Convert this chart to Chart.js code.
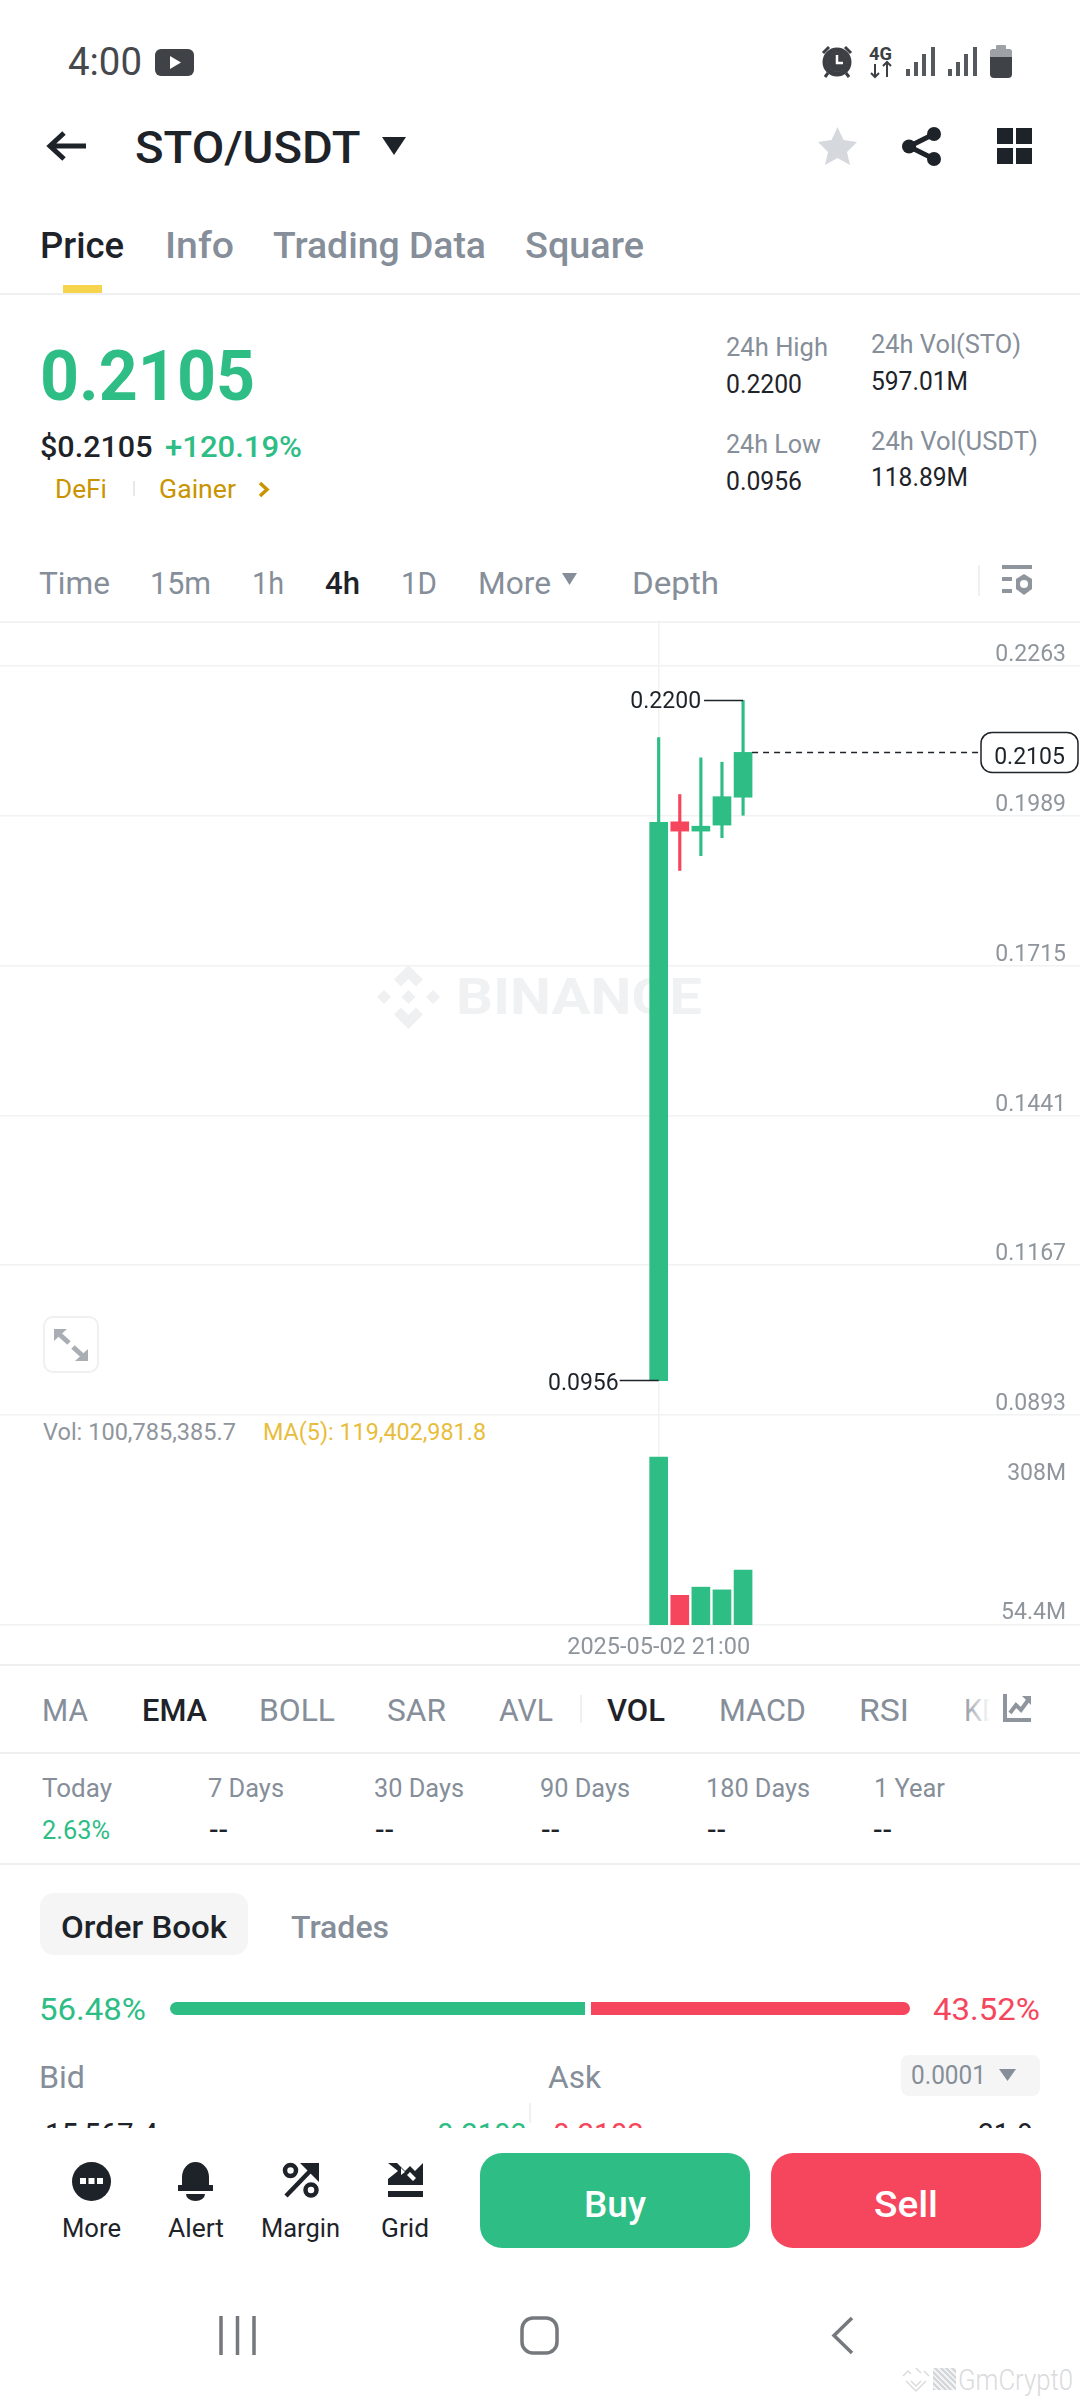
<!DOCTYPE html>
<html>
<head>
<meta charset="utf-8">
<title>STO/USDT</title>
<script src="https://cdn.jsdelivr.net/npm/chart.js@4"></script>
<style>
html,body{margin:0;padding:0;background:#fff;width:1080px;height:2400px;overflow:hidden;font-family:Roboto,"Noto Sans",sans-serif}
.t{position:absolute;white-space:nowrap;transform-origin:0 50%}
.b{position:absolute}
svg{position:absolute;overflow:visible}
canvas{position:absolute;left:0}
</style>
</head>
<body>
<div id="ui"></div>
<canvas id="price" width="1080" height="797" style="top:620px;width:1080px;height:797px"></canvas>
<canvas id="vol" width="1080" height="255" style="top:1414px;width:1080px;height:255px"></canvas>
<div id="top"></div>
<script>
// ---- chart data ----
const candleTimes = ['2025-05-02 21:00','2025-05-03 01:00','2025-05-03 05:00','2025-05-03 09:00','2025-05-03 13:00'];
const openPrices  = [0.0956,0.1978,0.1961,0.1972,0.2023];
const closePrices = [0.1977,0.1961,0.1970,0.2024,0.2105];
const highPrices  = [0.2132,0.2028,0.2095,0.2087,0.2200];
const lowPrices   = [0.0956,0.1889,0.1916,0.1949,0.1990];
const volumes     = [308000000,54400000,69400000,64400000,100785385.7];
const priceTicks  = [0.2263,0.1989,0.1715,0.1441,0.1167,0.0893];
const volumeTicks = [308000000,54400000];
const volumeTickLabels = ['308M','54.4M'];
const lastPrice = 0.2105, peakPrice = 0.2200, troughPrice = 0.0956;

const GREEN='#2EBD85', RED='#F6465D', INK='#1E2329', GREY='#858E99', GRID='#F1F2F3', AXIS='#8F959C';
const FONT='Roboto,"Noto Sans",sans-serif';
const candleColor = candleTimes.map((_,i)=> closePrices[i]>=openPrices[i] ? GREEN : RED);

// ---- page chrome helpers ----
const ui=document.getElementById('ui');
function T(text,x0,x1,cy,size,color,weight,parent){
  const s=document.createElement('span'); s.className='t'; s.textContent=text;
  s.style.cssText=`left:${x0}px;top:${cy-size*0.6}px;font-size:${size}px;line-height:${size*1.2}px;color:${color};font-weight:${weight||400}`;
  (parent||ui).appendChild(s);
  if(x1){const w=s.getBoundingClientRect().width; s.style.transform=`scaleX(${(x1-x0)/w})`;}
  return s;
}
function R(x,y,w,h,bg,r,parent,extra){
  const d=document.createElement('div'); d.className='b';
  d.style.cssText=`left:${x}px;top:${y}px;width:${w}px;height:${h}px;background:${bg};border-radius:${r||0}px;${extra||''}`;
  (parent||ui).appendChild(d); return d;
}
function S(x,y,w,h,inner,parent){
  const c=document.createElement('div');
  c.innerHTML=`<svg xmlns="http://www.w3.org/2000/svg" style="left:${x}px;top:${y}px" width="${w}" height="${h}" viewBox="0 0 ${w} ${h}">${inner}</svg>`;
  (parent||ui).appendChild(c.firstChild);
}
const LINE='#EEF0F1';

// status bar
T('4:00',68,142,62.5,38,'#45484C',400);
S(155,49,39,27,`<rect width="39" height="27" rx="6" fill="#3F4246"/><path d="M15 7 L26 13.5 L15 20Z" fill="#fff"/>`);
S(822,46,30,31,`<circle cx="15" cy="16" r="12" fill="none" stroke="#3C3F43" stroke-width="5"/><circle cx="15" cy="16" r="10" fill="#3C3F43"/><path d="M15 9V17H21" stroke="#fff" stroke-width="2.5" fill="none"/><path d="M1 7 L7 1 M29 7 L23 1" stroke="#3C3F43" stroke-width="3"/><path d="M6 27 L3 31 M24 27 L27 31" stroke="#3C3F43" stroke-width="3"/>`);
T('4G',869,892,54,18,'#3C3F43',700);
S(869,62,24,15,`<path d="M6 15V2 M2 11L6 15L10 11 M18 0V15 M14 4L18 0L22 4" stroke="#3C3F43" stroke-width="2" fill="none"/>`);
for(const sx of [906,948]){
  S(sx,47,30,29,`<rect x="0" y="22" width="4" height="7" fill="#55585C"/><rect x="8" y="15" width="4" height="14" fill="#55585C"/><rect x="16" y="7" width="4" height="22" fill="#55585C"/><rect x="25" y="0" width="4" height="29" fill="#55585C"/>`);
}
S(990,45,22,33,`<rect x="6" y="0" width="10" height="5" rx="1" fill="#9EA1A5"/><rect x="0" y="4" width="22" height="29" rx="4" fill="#3F4246"/><path d="M0 12V8a4 4 0 0 1 4-4H18a4 4 0 0 1 4 4V12Z" fill="#9EA1A5"/>`);

// header
S(46,130,42,32,`<path d="M40 16H5 M18 3L4 16L18 29" stroke="${INK}" stroke-width="5" fill="none"/>`);
T('STO/USDT',134.5,360,148,45,INK,500);
S(382,137,24,18,`<path d="M0 0H24L12 18Z" fill="${INK}"/>`);
S(818,127,39,38,`<path d="M19.5 0L25.5 13L39 15L29 25L32 38L19.5 31L7 38L10 25L0 15L13.5 13Z" fill="#D5D8DC"/>`);
S(902,127,39,39,`<circle cx="32" cy="7" r="7" fill="${INK}"/><circle cx="7" cy="19.5" r="7" fill="${INK}"/><circle cx="32" cy="32" r="7" fill="${INK}"/><path d="M32 7L7 19.5L32 32" stroke="${INK}" stroke-width="5" fill="none"/>`);
R(997,128,16,16,INK);R(1016,128,16,16,INK);R(997,148,16,16,INK);R(1016,148,16,16,INK);

// tabs
T('Price',40,124,246.5,36,INK,500);
T('Info',165,234,246.5,36,GREY,500);
T('Trading Data',273,486,246.5,36,GREY,500);
T('Square',525,644,246.5,36,GREY,500);
R(63,285,39,8,'#F6D44D');
R(0,293,1080,1.5,LINE);

// price block
T('0.2105',40,255,376,70,GREEN,700);
T('$0.2105',39.5,152,447,30,INK,500);
T('+120.19%',165,302,447,30,GREEN,500);
T('DeFi',55,107,490,25,'#C99400',400);
R(133,481,1.5,15,'#E6E8EA');
T('Gainer',159,236,490,25,'#C99400',400);
S(258,481,12,17,`<path d="M2 2L9 8.5L2 15" stroke="#C99400" stroke-width="3.5" fill="none"/>`);
T('24h High',726,828,348,26,GREY);
T('0.2200',726,802,385,26,INK);
T('24h Low',726,821,445,26,GREY);
T('0.0956',726,802,482,26,INK);
T('24h Vol(STO)',871,1021,344.5,26,GREY);
T('597.01M',871,968,381.5,26,INK);
T('24h Vol(USDT)',871,1038,441.5,26,GREY);
T('118.89M',871,968,478,26,INK);

// interval row
T('Time',39,110,583,32,GREY);
T('15m',150,211,583,32,GREY);
T('1h',252,284,583,32,GREY);
T('4h',325,360,583,32,INK,500);
T('1D',401,437,583,32,GREY);
T('More',478,551,583,32,GREY);
S(562,573,15,12,`<path d="M0 0H15L7.5 12Z" fill="${GREY}"/>`);
T('Depth',632,719,583,32,GREY);
R(978,565,1.5,31,'#EEF0F1');
S(1002,565,30,30,`<rect x="0" y="0" width="30" height="4" fill="#8F959C"/><rect x="0" y="12" width="10" height="4" fill="#8F959C"/><rect x="0" y="24" width="10" height="4" fill="#8F959C"/><path d="M22 9L30 14V24L22 30L14 24V14Z" fill="#8F959C"/><circle cx="22" cy="19" r="4" fill="#fff"/>`);
R(0,621,1080,1.5,GRID);

// watermark, sits behind the canvas
S(377,965,63,64,`<g fill="#EFF0F1"><path d="M31.5 0L46 14.5L39 21.5L31.5 14L24 21.5L17 14.5Z"/><path d="M31.5 64L46 49.5L39 42.5L31.5 50L24 42.5L17 49.5Z"/><path d="M7 25L14 32L7 39L0 32Z"/><path d="M56 25L63 32L56 39L49 32Z"/><path d="M31.5 25L38.5 32L31.5 39L24.5 32Z"/></g>`);
T('BINANCE',456,702,997,50,'#F0F1F2',700);

// expand button
R(43,1316,52,53,'#fff',10,ui,'border:2px solid #EEF0F1');
S(54,1329,34,32,`<g fill="#A9AEB5"><path d="M0 0H13L0 12Z"/><path d="M4 4L15 14" stroke="#A9AEB5" stroke-width="5"/><path d="M34 32H21L34 20Z"/><path d="M30 28L19 18" stroke="#A9AEB5" stroke-width="5"/></g>`);

// volume caption
T('Vol: 100,785,385.7',43,236,1432.5,23,AXIS);
T('MA(5): 119,402,981.8',263,486,1432.5,23,'#E8BD3C');

R(0,1664,1080,1.5,LINE);

// indicators row
[['MA',42,88,0],['EMA',142,207,1],['BOLL',259,335,0],['SAR',387,446,0],['AVL',499,553,0],['VOL',607,665,1],['MACD',719,806,0],['RSI',859,909,0],['KD',964,1001,0]]
 .forEach(([n,a,b,on])=>T(n,a,b,1711,31,on?INK:GREY,on?500:400));
R(961,1692,42,36,'linear-gradient(90deg,rgba(255,255,255,0),#fff 70%)');
R(580,1695,1.5,28,LINE);
S(1003,1694,28,28,`<path d="M2 0V26H28" stroke="#8F959C" stroke-width="4" fill="none"/><path d="M7 19L13 11L18 16L26 5" stroke="#8F959C" stroke-width="4" fill="none"/><path d="M19 2H28V11Z" fill="#8F959C"/>`);
R(0,1752,1080,1.5,LINE);

// returns row
[['Today',42,112],['7 Days',208,284],['30 Days',374,464],['90 Days',540,630],['180 Days',706,810],['1 Year',874,945]]
 .forEach(([n,a,b])=>T(n,a,b,1789,25,GREY));
T('2.63%',42,110,1831,25,GREEN);
[209,375,541,707,873].forEach(x=>T('--',x,x+19,1831,25,INK,500));
R(0,1863,1080,1.5,LINE);

// order book
R(40,1893,208,62,'#F5F5F5',14);
T('Order Book',61,227,1928,31,INK,500);
T('Trades',291,389,1928,31,GREY,500);
T('56.48%',39,146,2009.5,32,GREEN);
R(170,2002,415,13,GREEN,0,ui,'border-radius:7px 0 0 7px');
R(591,2002,319,13,RED,0,ui,'border-radius:0 7px 7px 0');
T('43.52%',933,1040,2009.5,32,RED);
T('Bid',39,85,2078,31,GREY);
T('Ask',548,601,2078,31,GREY);
R(901,2055,139,41,'#F5F5F5',8);
T('0.0001',911,986,2076,25,GREY);
S(999,2069,17,12,`<path d="M0 0H17L8.5 12Z" fill="${GREY}"/>`);
R(529,2103,1.5,20,LINE);
const clip=R(0,2100,1080,28,'transparent',0,ui,'overflow:hidden');
T('15,567.4',45,158,35,31,INK,400,clip);
T('0.2103',437,527,35,31,GREEN,400,clip);
T('0.2103',553,644,35,31,RED,400,clip);
T('21.9',978,1033,35,31,INK,400,clip);

// bottom bar
S(71.5,2161.5,39,39,`<circle cx="19.5" cy="19.5" r="19.5" fill="${INK}"/><rect x="8" y="16" width="6" height="6" fill="#fff"/><rect x="16.5" y="16" width="6" height="6" fill="#fff"/><rect x="25" y="16" width="6" height="6" fill="#fff"/>`);
S(178,2162,35,39,`<path d="M4 27V15a13.5 15 0 0 1 27 0V27Z" fill="${INK}"/><rect x="0" y="23" width="35" height="6" fill="${INK}"/><path d="M8 32H27a9.5 7 0 0 1-19 0Z" fill="${INK}"/>`);
S(283,2163,36,35,`<circle cx="7.5" cy="7.5" r="5.5" fill="none" stroke="${INK}" stroke-width="4.5"/><circle cx="28" cy="27" r="5.5" fill="none" stroke="${INK}" stroke-width="4.5"/><path d="M3 33L30 5" stroke="${INK}" stroke-width="4.5"/><path d="M17 0H36V19Z" fill="${INK}"/>`);
S(388,2163,35,35,`<path d="M0 0H9L17 8L22 3L27 8L35 0V22H0V16L10 8Z" fill="${INK}"/><path d="M13 5L17 9L13 12ZM22 9L28 15L25 18L19 12Z" fill="#fff"/><rect x="0" y="28" width="35" height="6" fill="${INK}"/>`);
T('More',62,121,2229,26,INK);
T('Alert',168,224,2229,26,INK);
T('Margin',261,340,2229,26,INK);
T('Grid',381,429,2229,26,INK);
R(480,2153,270,95,GREEN,22);
R(771,2153,270,95,RED,22);
T('Buy',584,646,2205.5,36,'#fff',500);
T('Sell',874,938,2205.5,36,'#fff',500);

// navigation bar + mark
S(219,2316,37,39,`<path d="M2 0V39 M18.5 0V39 M35 0V39" stroke="#75787C" stroke-width="3.5"/>`);
S(520,2316,39,39,`<rect x="2" y="2" width="35" height="35" rx="11" fill="none" stroke="#75787C" stroke-width="3.5"/>`);
S(831,2316,23,39,`<path d="M21 2L3 19.5L21 37" stroke="#75787C" stroke-width="3.5" fill="none"/>`);
S(902,2368,28,24,`<path d="M1 8L6 3L9 6 M14 0L19 5M27 8L22 3 M4 13L14 23L24 13 M9 13L14 18L19 13" stroke="#D9DBDD" stroke-width="1.5" fill="none"/>`);
R(933,2368,23,22,'repeating-linear-gradient(45deg,#D4D6D8 0 2px,#F2F3F4 2px 4px)');
T('GmCrypt0',958,1073,2380,30,'#D9DBDD',300);

// ---- Chart.js ----
const xRange = {min:-31.22, max:19.97};
const zeroPadding = a=>{a.paddingTop=0;a.paddingBottom=0;a.paddingLeft=0;a.paddingRight=0;};
const xBase = {
  type:'linear', min:xRange.min, max:xRange.max, offset:false,
  afterBuildTicks:a=>{a.ticks=[{value:0}];},
  border:{display:false},
  grid:{color:GRID,lineWidth:1.5,drawTicks:false,offset:false}
};
const priceAnnotations = {
  id:'priceAnnotations',
  afterDatasetsDraw(c){
    const {ctx,scales:{x,y}}=c;
    ctx.save();
    ctx.font='23px '+FONT; ctx.textBaseline='middle'; ctx.fillStyle=INK; ctx.strokeStyle=INK; ctx.lineWidth=1.5;
    // highest price leader
    const hi=highPrices.indexOf(peakPrice), hx=x.getPixelForValue(hi), hy=y.getPixelForValue(peakPrice);
    ctx.beginPath();ctx.moveTo(hx,hy);ctx.lineTo(hx-39,hy);ctx.stroke();
    ctx.textAlign='right';ctx.fillText(peakPrice.toFixed(4),hx-42,hy+1.5);
    // lowest price leader
    const li=lowPrices.indexOf(troughPrice), lx=x.getPixelForValue(li), ly=y.getPixelForValue(troughPrice);
    ctx.beginPath();ctx.moveTo(lx,ly);ctx.lineTo(lx-39,ly);ctx.stroke();
    ctx.fillText(troughPrice.toFixed(4),lx-40,ly+3.5);
    // last price line and tag
    const px=x.getPixelForValue(candleTimes.length-1)+9, py=y.getPixelForValue(lastPrice);
    ctx.setLineDash([6,5]);
    ctx.beginPath();ctx.moveTo(px,py);ctx.lineTo(979,py);ctx.stroke();
    ctx.setLineDash([]);
    ctx.beginPath();ctx.roundRect(981,py-20,97,40,11);ctx.fillStyle='#fff';ctx.fill();ctx.stroke();
    ctx.fillStyle=INK;ctx.textAlign='center';ctx.fillText(lastPrice.toFixed(4),1029.5,py+5.5);
    ctx.restore();
  }
};
new Chart(document.getElementById('price'),{
  type:'bar',
  data:{datasets:[
    {data:candleTimes.map((_,i)=>({x:i,y:[lowPrices[i],highPrices[i]]})),backgroundColor:candleColor,barThickness:2.5,grouped:false,borderSkipped:false},
    {data:candleTimes.map((_,i)=>({x:i,y:[openPrices[i],closePrices[i]]})),backgroundColor:candleColor,barThickness:18,grouped:false,borderSkipped:false}
  ]},
  plugins:[priceAnnotations],
  options:{
    responsive:false,animation:false,devicePixelRatio:1,
    layout:{padding:{top:2,bottom:2,left:0,right:0}},
    plugins:{legend:{display:false},tooltip:{enabled:false}},
    scales:{
      x:Object.assign({},xBase,{afterFit:a=>{a.height=0;zeroPadding(a);},ticks:{display:false}}),
      y:{
        position:'right',min:0.0893,max:0.23435,
        afterBuildTicks:a=>{a.ticks=priceTicks.map(v=>({value:v}));},
        border:{display:false},
        grid:{color:GRID,lineWidth:1.5,drawTicks:false},
        afterFit:a=>{a.width=0;zeroPadding(a);},
        ticks:{mirror:true,padding:-14,labelOffset:-10.5,color:AXIS,font:{family:FONT,size:23},callback:v=>v.toFixed(4),autoSkip:false}
      }
    }
  }
});
new Chart(document.getElementById('vol'),{
  type:'bar',
  data:{datasets:[{data:candleTimes.map((_,i)=>({x:i,y:volumes[i]})),backgroundColor:candleColor,barThickness:18}]},
  options:{
    responsive:false,animation:false,devicePixelRatio:1,
    layout:{padding:{top:1,bottom:0,left:0,right:0}},
    plugins:{legend:{display:false},tooltip:{enabled:false}},
    scales:{
      x:Object.assign({},xBase,{
        border:{display:true,color:GRID,width:1.5},
        afterFit:a=>{a.height=44;zeroPadding(a);},
        ticks:{padding:9,color:AXIS,maxRotation:0,autoSkip:false,font:{family:FONT,size:23.5},callback:v=>candleTimes[v]}
      }),
      y:{
        position:'right',min:0,max:385000000,
        afterBuildTicks:a=>{a.ticks=volumeTicks.map(v=>({value:v}));},
        border:{display:false},
        grid:{display:false,drawTicks:false},
        afterFit:a=>{a.width=0;zeroPadding(a);},
        ticks:{mirror:true,padding:-14,labelOffset:17.5,color:AXIS,font:{family:FONT,size:23},callback:v=>volumeTickLabels[volumeTicks.indexOf(v)],autoSkip:false}
      }
    }
  }
});
</script>
</body>
</html>
